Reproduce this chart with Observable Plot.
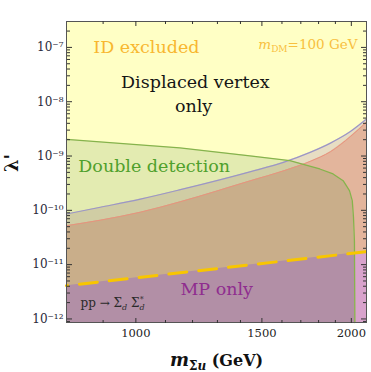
<!DOCTYPE html>
<html><head><meta charset="utf-8">
<script src="https://cdn.jsdelivr.net/npm/d3@7"></script>
<script src="https://cdn.jsdelivr.net/npm/@observablehq/plot@0.6"></script>
<style>body{margin:0;background:#fff}</style>
</head><body><div id="chart"></div>
<script>
// ---- data ----
const xDomain = [800, 2100];
const yDomain = [8.6e-13, 3e-7];

// Double-detection boundary (green)
const massGreen   = [800, 1152, 1443, 1641, 1694, 1807, 1886, 1948, 1988, 2006, 2014, 2020, 2023];
const lambdaGreen = [2.02e-9, 1.41e-9, 1.01e-9, 8.2e-10, 7.33e-10, 5.77e-10, 4.67e-10, 3.51e-10, 2.30e-10, 1.51e-10, 7.4e-11, 2.7e-11, 8.6e-13];

// Displaced-vertex boundaries (blue-grey upper, red lower)
const massBand   = [800, 892, 1015, 1154, 1447, 1611, 1755, 1870, 1994, 2100];
const lambdaGray = [8.57e-11, 1.14e-10, 1.61e-10, 2.40e-10, 5.16e-10, 7.73e-10, 1.18e-9, 1.73e-9, 2.82e-9, 4.79e-9];
const lambdaRed  = [5.21e-11, 6.59e-11, 9.25e-11, 1.44e-10, 3.52e-10, 5.38e-10, 8.05e-10, 1.20e-9, 2.28e-9, 4.21e-9];

// MP-only boundary (dashed)
const massMP   = [800, 2022, 2100];
const lambdaMP = [4.1e-12, 1.64e-11, 1.73e-11];

// ticks
const xMajor = [1000, 1500, 2000];
const xMinor = [900, 1100, 1200, 1300, 1400, 1600, 1700, 1800, 1900];
const yMajor = [1e-12, 1e-11, 1e-10, 1e-9, 1e-8, 1e-7];
const yMinor = [];
for (let e = -13; e <= -7; e++) for (let k = 2; k <= 9; k++) {
  const v = k * Math.pow(10, e);
  if (v > yDomain[0] && v < yDomain[1]) yMinor.push(v);
}

// tables
const green = massGreen.map((m, i) => ({m, l: lambdaGreen[i]}));
const band = massBand.map((m, i) => ({m, gray: lambdaGray[i], red: lambdaRed[i]}));
const mp = massMP.map((m, i) => ({m, l: lambdaMP[i]}));

const sup = {"-": "\u207B", "0": "\u2070", "1": "\u00B9", "2": "\u00B2", "3": "\u00B3", "4": "\u2074", "5": "\u2075", "6": "\u2076", "7": "\u2077", "8": "\u2078", "9": "\u2079"};
const powFmt = d => "10" + String(Math.round(Math.log10(d))).split("").map(c => sup[c]).join("");

const tickStyle = {fill: "none", label: null, stroke: "#333"};
const base = yDomain[0];
const smooth = "monotone-x";

const GREEN_FILL = "#e3ebb1";
const INSIDE_FILLS = ["#d0cda4", "#c9ae8a", "#b28fa6"];

const chart = Plot.plot({
  width: 371, height: 372,
  marginLeft: 66, marginRight: 5, marginTop: 21, marginBottom: 50,
  x: {type: "log", domain: xDomain},
  y: {type: "log", domain: yDomain},
  style: {fontFamily: "DejaVu Serif", fontSize: "12px", background: "#fff", color: "#333"},
  marks: [
    Plot.frame({fill: "#ffffc5"}),
    // outside the double-detection region
    Plot.areaY(band, {x: "m", y1: base, y2: "gray", fill: "#e7ddc3", curve: smooth}),
    Plot.areaY(band, {x: "m", y1: base, y2: "red", fill: "#e3b59c", curve: smooth}),
    Plot.areaY(mp, {x: "m", y1: base, y2: "l", fill: "#d8a3cc"}),
    // double-detection region
    Plot.areaY(green, {x: "m", y1: base, y2: "l", fill: GREEN_FILL}),
    // inside the double-detection region (clipped below)
    Plot.areaY(band, {x: "m", y1: base, y2: "gray", fill: INSIDE_FILLS[0], curve: smooth}),
    Plot.areaY(band, {x: "m", y1: base, y2: "red", fill: INSIDE_FILLS[1], curve: smooth}),
    Plot.areaY(mp, {x: "m", y1: base, y2: "l", fill: INSIDE_FILLS[2]}),
    // boundaries
    Plot.lineY(band, {x: "m", y: "red", stroke: "#e8937d", strokeWidth: 1, curve: smooth}),
    Plot.lineY(band, {x: "m", y: "gray", stroke: "#9b96c6", strokeWidth: 1.2, curve: smooth}),
    Plot.lineY(green, {x: "m", y: "l", stroke: "#86b34c", strokeWidth: 1.3}),
    Plot.lineY(mp, {x: "m", y: "l", stroke: "#f8c600", strokeWidth: 3, strokeDasharray: "18,12", strokeDashoffset: 17}),
    Plot.frame({stroke: "#555"}),
    // inward ticks on all four sides
    Plot.axisX(xMajor, {anchor: "top", tickSize: 5, dy: 301, ...tickStyle}),
    Plot.axisX(xMinor, {anchor: "top", tickSize: 3, dy: 301, ...tickStyle}),
    Plot.axisX(xMajor, {anchor: "bottom", tickSize: 5, dy: -301, ...tickStyle}),
    Plot.axisX(xMinor, {anchor: "bottom", tickSize: 3, dy: -301, ...tickStyle}),
    Plot.axisY(yMajor, {anchor: "right", tickSize: 5, dx: -300, ...tickStyle}),
    Plot.axisY(yMinor, {anchor: "right", tickSize: 3, dx: -300, ...tickStyle}),
    Plot.axisY(yMajor, {anchor: "left", tickSize: 5, dx: 300, ...tickStyle}),
    Plot.axisY(yMinor, {anchor: "left", tickSize: 3, dx: 300, ...tickStyle}),
    // tick labels
    Plot.axisX(xMajor, {anchor: "bottom", tickSize: 0, tickPadding: 6, tickFormat: d => String(d), fontSize: 11.5, label: null, fill: "#222"}),
    Plot.axisY(yMajor, {anchor: "left", tickSize: 0, tickPadding: 3, tickFormat: powFmt, fontSize: 12, label: null, fill: "#2a2a3a"}),
    // region labels
    Plot.text(["ID excluded"], {x: 872, y: 1e-7, textAnchor: "start", fill: "#f8b730", fontSize: 17.5}),
    Plot.text(["@mDM"], {x: 2040, y: 1.1e-7, textAnchor: "end", fill: "#f8c040", fontSize: 13.5}),
    Plot.text(["Displaced vertex"], {x: 1211, y: 2.29e-8, fill: "#151515", fontSize: 17.5}),
    Plot.text(["only"], {x: 1204, y: 8.1e-9, fill: "#151515", fontSize: 17.5}),
    Plot.text(["Double detection"], {x: 831, y: 6.58e-10, textAnchor: "start", fill: "#4fa02c", fontSize: 17.5}),
    Plot.text(["MP only"], {x: 1154, y: 3.49e-12, textAnchor: "start", fill: "#8f2d8f", fontSize: 17.5}),
    Plot.text(["@pp"], {x: 837, y: 1.93e-12, textAnchor: "start", fill: "#2a2a2a", fontSize: 12}),
    // axis titles
    Plot.text(["@xlabel"], {frameAnchor: "bottom", dy: 43, fontSize: 16, fontWeight: "bold", fill: "#111"}),
    Plot.text(["\u03BB'"], {frameAnchor: "left", dx: -54, rotate: -90, fontSize: 18, fontWeight: "bold", fill: "#111"})
  ]
});
document.getElementById("chart").appendChild(chart);

const svg = d3.select(chart);

// find an area path by its fill (on the path or on its group)
function pathsWithFill(color) {
  return svg.selectAll("path").filter(function () {
    const f = (this.getAttribute("fill") || (this.parentNode && this.parentNode.getAttribute && this.parentNode.getAttribute("fill")) || "").toLowerCase();
    return f === color.toLowerCase();
  });
}

// clip the "inside" layers to the double-detection region
try {
  const gpath = pathsWithFill(GREEN_FILL);
  if (!gpath.empty()) {
    const defs = svg.append("defs");
    defs.append("clipPath").attr("id", "greenClip").append("path").attr("d", gpath.attr("d"));
    INSIDE_FILLS.forEach(c => pathsWithFill(c).attr("clip-path", "url(#greenClip)"));
  }
} catch (e) { console.log(e); }

// rich text
function rich(key, parts) {
  const t = svg.selectAll("text").filter(function () { return this.textContent === key; });
  t.text(null);
  parts.forEach(p => {
    const s = t.append("tspan").text(p.t);
    Object.entries(p.a || {}).forEach(([k, v]) => s.attr(k, v));
  });
}
rich("@mDM", [
  {t: "m", a: {"font-style": "italic"}},
  {t: "DM", a: {"font-size": 9, dy: 3}},
  {t: "=100 GeV", a: {dy: -3}}
]);
rich("@pp", [
  {t: "pp \u2192 \u03A3"},
  {t: "d", a: {"font-size": 8, "font-style": "italic", dy: 3}},
  {t: " \u03A3", a: {dy: -3}},
  {t: "d", a: {"font-size": 8, "font-style": "italic", dy: 3}},
  {t: "*", a: {"font-size": 8, dx: -5, dy: -8}}
]);
rich("@xlabel", [
  {t: "m", a: {"font-style": "italic", "font-size": 18}},
  {t: "\u03A3", a: {"font-size": 12, dy: 4}},
  {t: "u", a: {"font-size": 12, "font-style": "italic"}},
  {t: " (GeV)", a: {dy: -4}}
]);
</script>
</body></html>
